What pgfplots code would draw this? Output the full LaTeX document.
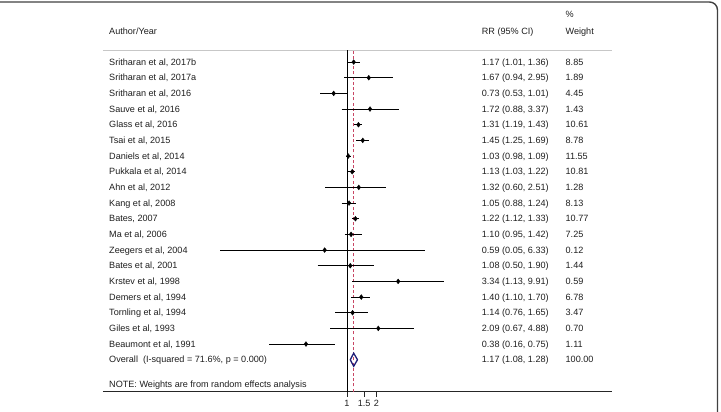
\documentclass[border=0pt]{standalone}
\usepackage{fontspec}
\setmainfont{Liberation Sans}
\usepackage{pgfplots}
\pgfplotsset{compat=1.18}
\definecolor{txt}{RGB}{30,30,30}
\definecolor{navyd}{RGB}{30,30,120}
\definecolor{refred}{RGB}{200,70,100}
\tikzset{lbl/.style={anchor=west, inner sep=0pt, text height=6.5pt, text depth=0pt, font=\fontsize{9.1}{11}\selectfont, text=txt}}
\begin{document}
\begin{tikzpicture}
\useasboundingbox (0pt,0pt) rectangle (721pt,412pt);
\draw[line width=1.4pt, color=black!75, rounded corners=8pt] (-10pt,410pt) -- (717.5pt,410pt) -- (717.5pt,-10pt);
\begin{axis}[
  at={(103pt,20.3pt)}, anchor=south west,
  scale only axis, width=509pt, height=341.7pt,
  xmode=log, xmin=0.003165, xmax=518.0,
  ymin=-22.04, ymax=-0.23,
  axis x line*=bottom, axis y line=none,
  x axis line style={-, line width=1pt, color=black!85},
  xtick={1,1.5,2}, xticklabels={1,1.5,2}, xminorticks=false,
  xtick align=outside, major tick length=5pt,
  xtick style={line width=0.8pt, color=black!85},
  ticklabel style={font=\fontsize{9.1}{11}\selectfont, text=txt},
  /pgf/number format/assume math mode=true,
  clip=false,
]
% header line
\addplot[color=black!22, line width=0.9pt] coordinates {(0.003165,-0.23) (518.0,-0.23)};
% reference lines
\addplot[black, line width=1pt] coordinates {(1,-22.04) (1,-0.23)};
\addplot[refred, line width=0.9pt, dash pattern=on 3pt off 2.2pt] coordinates {(1.17,-22.04) (1.17,-0.23)};
% confidence intervals
\addplot[black, line width=1.1pt, unbounded coords=jump] coordinates {
(1.01,-1) (1.36,-1) (nan,nan)
(0.94,-2) (2.95,-2) (nan,nan)
(0.53,-3) (1.01,-3) (nan,nan)
(0.88,-4) (3.37,-4) (nan,nan)
(1.19,-5) (1.43,-5) (nan,nan)
(1.25,-6) (1.69,-6) (nan,nan)
(0.98,-7) (1.09,-7) (nan,nan)
(1.03,-8) (1.22,-8) (nan,nan)
(0.60,-9) (2.51,-9) (nan,nan)
(0.88,-10) (1.24,-10) (nan,nan)
(1.12,-11) (1.33,-11) (nan,nan)
(0.95,-12) (1.42,-12) (nan,nan)
(0.05,-13) (6.33,-13) (nan,nan)
(0.50,-14) (1.90,-14) (nan,nan)
(1.13,-15) (9.91,-15) (nan,nan)
(1.10,-16) (1.70,-16) (nan,nan)
(0.76,-17) (1.65,-17) (nan,nan)
(0.67,-18) (4.88,-18) (nan,nan)
(0.16,-19) (0.75,-19)
};
% point estimates
\addplot[only marks, mark=diamond*, mark size=2.4pt, black] coordinates {
(1.17,-1) (1.67,-2) (0.73,-3) (1.72,-4) (1.31,-5) (1.45,-6) (1.03,-7)
(1.13,-8) (1.32,-9) (1.05,-10) (1.22,-11) (1.10,-12) (0.59,-13) (1.08,-14)
(3.34,-15) (1.40,-16) (1.14,-17) (2.09,-18) (0.38,-19)
};
% overall diamond
\addplot[navyd, line width=1.3pt, line join=miter] coordinates {
(1.08,-20) (1.17,-19.58) (1.28,-20) (1.17,-20.42) (1.08,-20) (1.17,-19.58)
};
% header text
\node[lbl] at (axis cs:0.003647,0.978) {Author/Year};
\node[lbl] at (axis cs:23.97,0.978) {RR (95\% CI)};
\node[lbl] at (axis cs:172.9,2.063) {\%};
\node[lbl] at (axis cs:172.9,0.978) {Weight};
% study names
\node[lbl] at (axis cs:0.003647,-1) {Sritharan et al, 2017b};
\node[lbl] at (axis cs:0.003647,-2) {Sritharan et al, 2017a};
\node[lbl] at (axis cs:0.003647,-3) {Sritharan et al, 2016};
\node[lbl] at (axis cs:0.003647,-4) {Sauve et al, 2016};
\node[lbl] at (axis cs:0.003647,-5) {Glass et al, 2016};
\node[lbl] at (axis cs:0.003647,-6) {Tsai et al, 2015};
\node[lbl] at (axis cs:0.003647,-7) {Daniels et al, 2014};
\node[lbl] at (axis cs:0.003647,-8) {Pukkala et al, 2014};
\node[lbl] at (axis cs:0.003647,-9) {Ahn et al, 2012};
\node[lbl] at (axis cs:0.003647,-10) {Kang et al, 2008};
\node[lbl] at (axis cs:0.003647,-11) {Bates, 2007};
\node[lbl] at (axis cs:0.003647,-12) {Ma et al, 2006};
\node[lbl] at (axis cs:0.003647,-13) {Zeegers et al, 2004};
\node[lbl] at (axis cs:0.003647,-14) {Bates et al, 2001};
\node[lbl] at (axis cs:0.003647,-15) {Krstev et al, 1998};
\node[lbl] at (axis cs:0.003647,-16) {Demers et al, 1994};
\node[lbl] at (axis cs:0.003647,-17) {Tornling et al, 1994};
\node[lbl] at (axis cs:0.003647,-18) {Giles et al, 1993};
\node[lbl] at (axis cs:0.003647,-19) {Beaumont et al, 1991};
\node[lbl] at (axis cs:0.003647,-20) {Overall\ \ (I-squared = 71.6\%, p = 0.000)};
\node[lbl] at (axis cs:0.003647,-21.55) {NOTE: Weights are from random effects analysis};
% RR column
\node[lbl] at (axis cs:23.97,-1) {1.17 (1.01, 1.36)};
\node[lbl] at (axis cs:23.97,-2) {1.67 (0.94, 2.95)};
\node[lbl] at (axis cs:23.97,-3) {0.73 (0.53, 1.01)};
\node[lbl] at (axis cs:23.97,-4) {1.72 (0.88, 3.37)};
\node[lbl] at (axis cs:23.97,-5) {1.31 (1.19, 1.43)};
\node[lbl] at (axis cs:23.97,-6) {1.45 (1.25, 1.69)};
\node[lbl] at (axis cs:23.97,-7) {1.03 (0.98, 1.09)};
\node[lbl] at (axis cs:23.97,-8) {1.13 (1.03, 1.22)};
\node[lbl] at (axis cs:23.97,-9) {1.32 (0.60, 2.51)};
\node[lbl] at (axis cs:23.97,-10) {1.05 (0.88, 1.24)};
\node[lbl] at (axis cs:23.97,-11) {1.22 (1.12, 1.33)};
\node[lbl] at (axis cs:23.97,-12) {1.10 (0.95, 1.42)};
\node[lbl] at (axis cs:23.97,-13) {0.59 (0.05, 6.33)};
\node[lbl] at (axis cs:23.97,-14) {1.08 (0.50, 1.90)};
\node[lbl] at (axis cs:23.97,-15) {3.34 (1.13, 9.91)};
\node[lbl] at (axis cs:23.97,-16) {1.40 (1.10, 1.70)};
\node[lbl] at (axis cs:23.97,-17) {1.14 (0.76, 1.65)};
\node[lbl] at (axis cs:23.97,-18) {2.09 (0.67, 4.88)};
\node[lbl] at (axis cs:23.97,-19) {0.38 (0.16, 0.75)};
\node[lbl] at (axis cs:23.97,-20) {1.17 (1.08, 1.28)};
% Weight column
\node[lbl] at (axis cs:172.9,-1) {8.85};
\node[lbl] at (axis cs:172.9,-2) {1.89};
\node[lbl] at (axis cs:172.9,-3) {4.45};
\node[lbl] at (axis cs:172.9,-4) {1.43};
\node[lbl] at (axis cs:172.9,-5) {10.61};
\node[lbl] at (axis cs:172.9,-6) {8.78};
\node[lbl] at (axis cs:172.9,-7) {11.55};
\node[lbl] at (axis cs:172.9,-8) {10.81};
\node[lbl] at (axis cs:172.9,-9) {1.28};
\node[lbl] at (axis cs:172.9,-10) {8.13};
\node[lbl] at (axis cs:172.9,-11) {10.77};
\node[lbl] at (axis cs:172.9,-12) {7.25};
\node[lbl] at (axis cs:172.9,-13) {0.12};
\node[lbl] at (axis cs:172.9,-14) {1.44};
\node[lbl] at (axis cs:172.9,-15) {0.59};
\node[lbl] at (axis cs:172.9,-16) {6.78};
\node[lbl] at (axis cs:172.9,-17) {3.47};
\node[lbl] at (axis cs:172.9,-18) {0.70};
\node[lbl] at (axis cs:172.9,-19) {1.11};
\node[lbl] at (axis cs:172.9,-20) {100.00};
\end{axis}
\end{tikzpicture}
\end{document}
